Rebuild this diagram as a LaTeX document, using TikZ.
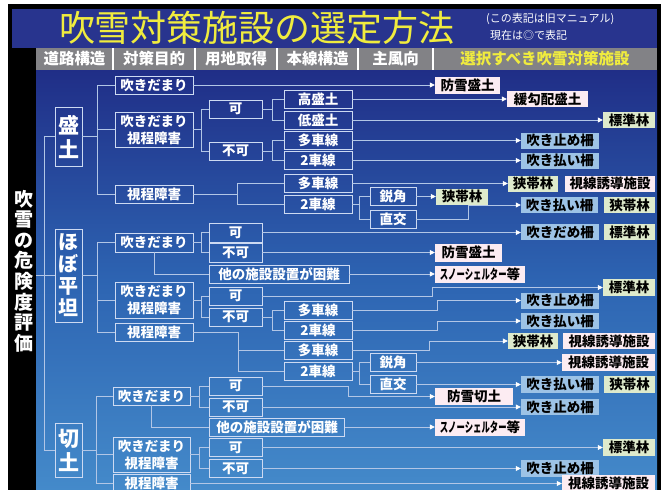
\documentclass[tikz,border=0pt]{standalone}
\usepackage{fontspec}
\usepackage{graphicx}
\setmainfont{Noto Sans CJK JP}
\usetikzlibrary{arrows.meta}
\definecolor{navy}{RGB}{40,52,142}
\definecolor{ttl}{RGB}{240,236,62}
\definecolor{hdr}{RGB}{130,130,134}
\definecolor{gtop}{RGB}{32,46,135}
\definecolor{gmid}{RGB}{45,100,178}
\definecolor{gbot}{RGB}{68,138,202}
\definecolor{lnc}{RGB}{178,198,230}
\definecolor{bxc}{RGB}{205,218,242}
\definecolor{pinkc}{RGB}{252,236,242}
\definecolor{greenc}{RGB}{222,234,204}
\definecolor{bluec}{RGB}{157,195,230}
\newcommand\wfont{\bfseries\fontsize{13.5}{17}\selectfont}
\newcommand\rfont{\bfseries\fontsize{21}{24}\selectfont}
\newcommand\sqz[1]{\scalebox{0.62}[1]{#1}}
\tikzset{
  sz/.style 2 args={minimum width=#1,minimum height=#2},
  wbox/.style={draw=bxc,line width=0.9pt,text=white,font=\wfont,inner sep=0pt,align=center},
  road/.style={wbox,font=\rfont},
  rbox/.style={text=black,font=\wfont,inner sep=0pt},
  pk/.style={rbox,fill=pinkc},
  gr/.style={rbox,fill=greenc},
  bl/.style={rbox,fill=bluec},
  ln/.style={draw=lnc,line width=0.8pt},
  ar/.style={ln,-{Triangle[length=5pt,width=5pt,color=white]}},
  hd/.style={text=white,font=\bfseries\fontsize{15.5}{17}\selectfont,inner sep=0pt},
}
\begin{document}
\begin{tikzpicture}[x=1pt,y=-1pt]
\useasboundingbox (0,0) rectangle (665,490);
\clip (0,0) rectangle (665,490);
\fill[white] (0,0) rectangle (665,490);
\fill[black] (8,4) rectangle (661,490);
\fill[navy] (12,9) rectangle (657,48);
\shade[top color=gtop,bottom color=gbot,middle color=gmid] (36,70) rectangle (657,490);
\fill[hdr] (36,48) rectangle (657,70);
\foreach \xx in {113,195,277,358,433} \draw[white,line width=1.5pt] (\xx,48) -- (\xx,70);
% title
\node[text=ttl,font=\fontsize{36}{36}\selectfont,inner sep=0pt] (title) at (257,28) {吹雪対策施設の選定方法};
\node[text=white,font=\fontsize{11}{12}\selectfont,inner sep=0pt,anchor=west] (note1) at (486,19) {(この表記は旧マニュアル)};
\node[text=white,font=\fontsize{11}{12}\selectfont,inner sep=0pt,anchor=west] (note2) at (490,35) {現在は◎で表記};
% header
\node[hd] (h1) at (74.5,59) {道路構造};
\node[hd] (h2) at (154,59) {対策目的};
\node[hd] (h3) at (236,59) {用地取得};
\node[hd] (h4) at (317.5,59) {本線構造};
\node[hd] (h5) at (395.5,59) {主風向};
\node[hd,text=ttl] (h6) at (545,59) {選択すべき吹雪対策施設};
% vertical label
\node[text=white,font=\bfseries\fontsize{19}{20.6}\selectfont,align=center,inner sep=0pt] (vl) at (23.5,271) {吹\\雪\\の\\危\\険\\度\\評\\価};
\coordinate (bandR) at (36,275.5);

% ===== 盛土 =====
\node[road,sz={27}{59}] (aR) at (68.5,136.5) {盛\\土};
\node[wbox,sz={78}{18}] (aF) at (154,85) {吹きだまり};
\node[wbox,sz={78}{35}] (aFV) at (154,129.5) {吹きだまり\\視程障害};
\node[wbox,sz={78}{18}] (aV) at (154,194) {視程障害};
\node[wbox,sz={53}{18}] (aKa) at (235.5,109) {可};
\node[wbox,sz={53}{18}] (aFu) at (235.5,151) {不可};
\node[wbox,sz={68}{18}] (aHi) at (318,99) {高盛土};
\node[wbox,sz={68}{18}] (aLo) at (318,120) {低盛土};
\node[wbox,sz={68}{18}] (aM1) at (318,140.5) {多車線};
\node[wbox,sz={68}{18}] (aT1) at (318,160.5) {2車線};
\node[wbox,sz={68}{18}] (aM2) at (318,183.5) {多車線};
\node[wbox,sz={68}{18}] (aT2) at (318,204) {2車線};
\node[wbox,sz={46}{18}] (aE) at (393,196.5) {鋭角};
\node[wbox,sz={46}{18}] (aC) at (393,219) {直交};
\node[pk,sz={65}{17}] (aR1) at (467.5,85) {防雪盛土};
\node[pk,sz={81}{16}] (aR2) at (547.5,99) {緩勾配盛土};
\node[gr,sz={52}{16}] (aR3) at (629,120) {標準林};
\node[bl,sz={78}{16}] (aR4) at (560,140.5) {吹き止め柵};
\node[bl,sz={78}{16}] (aR5) at (560,160.5) {吹き払い柵};
\node[gr,sz={50}{16}] (aR6) at (533,183.5) {狭帯林};
\node[pk,sz={90}{16}] (aR6b) at (610,183.5) {視線誘導施設};
\node[gr,sz={52}{16}] (aR7) at (462,196.5) {狭帯林};
\node[bl,sz={77}{16}] (aR8) at (559.5,205) {吹き払い柵};
\node[gr,sz={51}{16}] (aR8b) at (629.5,205) {狭帯林};
\draw[ln] (aR.east) -- ++(16,0);
\draw[ln] (aF.west) -- ++(-17,0) |- (aV.west);
\draw[ln] (aFV.west) -- ++(-17,0);
\draw[ln] (aFV.east) -- ++(9,0);
\draw[ln] (aKa.west) -- ++(-7,0) |- (aFu.west);
\draw[ln] (aKa.east) -- ++(11,0);
\draw[ln] (aHi.west) -- ++(-11,0) |- (aLo.west);
\draw[ln] (aFu.east) -- ++(11,0);
\draw[ln] (aM1.west) -- ++(-11,0) |- (aT1.west);
\draw[ln] (aV.east) -- ++(45,0);
\draw[ln] (aM2.west) -- ++(-46,0) |- (aT2.west);
\draw[ln] (aT2.east) -- ++(8,0);
\draw[ln] (aE.west) -- ++(-10,0) |- (aC.west);
\draw[ar] (aF.east) -- (aF.east -| aR1.west);
\draw[ar] (aHi.east) -- (aHi.east -| aR2.west);
\draw[ar] (aLo.east) -- (aLo.east -| aR3.west);
\draw[ar] (aM1.east) -- (aM1.east -| aR4.west);
\draw[ar] (aT1.east) -- (aT1.east -| aR5.west);
\draw[ar] (aM2.east) -- (aM2.east -| aR6.west);
\draw[ar] (aE.east) -- (aE.east -| aR7.west);
\draw[ar] (aC.east) -- ++(52,0) |- (aR8.west);

% ===== ほぼ平坦 =====
\node[road,sz={27}{93},font=\bfseries\fontsize{20}{22}\selectfont] (bR) at (68.5,275.5) {ほ\\ぼ\\平\\坦};
\node[wbox,sz={78}{19}] (bF) at (154,242.5) {吹きだまり};
\node[wbox,sz={78}{36}] (bFV) at (154,300) {吹きだまり\\視程障害};
\node[wbox,sz={78}{18}] (bV) at (154,332) {視程障害};
\node[wbox,sz={53}{19}] (bKa) at (235.5,232.5) {可};
\node[wbox,sz={53}{19}] (bFu) at (235.5,252.5) {不可};
\node[wbox,sz={140}{18}] (bO) at (279,274) {他の施設設置が困難};
\node[wbox,sz={53}{18}] (bKa2) at (235.5,296) {可};
\node[wbox,sz={53}{18}] (bFu2) at (235.5,317) {不可};
\node[wbox,sz={68}{18}] (bM1) at (318,310) {多車線};
\node[wbox,sz={68}{18}] (bT1) at (318,330) {2車線};
\node[wbox,sz={68}{18}] (bM2) at (318,350) {多車線};
\node[wbox,sz={68}{18}] (bT2) at (318,371) {2車線};
\node[wbox,sz={46}{18}] (bE) at (393,362.5) {鋭角};
\node[wbox,sz={46}{18}] (bC) at (393,384.5) {直交};
\node[bl,sz={78}{16}] (bR1) at (560,232) {吹きだめ柵};
\node[gr,sz={51}{16}] (bR1b) at (629.5,232) {標準林};
\node[pk,sz={67}{18}] (bR2) at (468.5,252.5) {防雪盛土};
\node[pk,sz={90}{17}] (bR3) at (480,274) {\sqz{スノーシェルター}等};
\node[gr,sz={52}{17}] (bR4) at (629,287.5) {標準林};
\node[bl,sz={78}{16}] (bR5) at (560,300.5) {吹き止め柵};
\node[bl,sz={78}{16}] (bR6) at (560,321) {吹き払い柵};
\node[gr,sz={50}{16}] (bR7) at (533,341) {狭帯林};
\node[pk,sz={92}{16}] (bR7b) at (609,341) {視線誘導施設};
\node[pk,sz={93}{17}] (bR8) at (608.5,362.5) {視線誘導施設};
\node[bl,sz={78}{17}] (bR9) at (560,384.5) {吹き払い柵};
\node[gr,sz={51}{17}] (bR9b) at (629.5,384.5) {狭帯林};
\draw[ln] (bandR) -- (bandR -| bR.west);
\draw[ln] (bR.east) -- ++(16,0);
\draw[ln] (bF.west) -- ++(-17,0) |- (bV.west);
\draw[ln] (bFV.west) -- ++(-17,0);
\draw[ln] (bF.east) -- ++(9,0);
\draw[ln] (bKa.west) -- ++(-7,0) |- (bFu.west);
\draw[ln] (bF.south) |- (bO.west);
\draw[ln] (bFV.east) -- ++(9,0);
\draw[ln] (bKa2.west) -- ++(-7,0) |- (bFu2.west);
\draw[ln] (bFu2.east) -- ++(11,0);
\draw[ln] (bM1.west) -- ++(-11,0) |- (bT1.west);
\draw[ln] (bV.east) -- ++(45,0) |- (bT2.west);
\draw[ln] (bM2.west) -- ++(-46,0);
\draw[ln] (bT2.east) -- ++(8,0);
\draw[ln] (bE.west) -- ++(-10,0) |- (bC.west);
\draw[ar] (bKa.east) -- (bKa.east -| bR1.west);
\draw[ar] (bFu.east) -- (bFu.east -| bR2.west);
\draw[ar] (bO.east) -- (bO.east -| bR3.west);
\draw[ar] (bKa2.east) -- ++(170,0) |- (bR4.west);
\draw[ar] (bM1.east) -- ++(85,0) |- (bR5.west);
\draw[ar] (bT1.east) -- ++(85,0) |- (bR6.west);
\draw[ar] (bM2.east) -- ++(77,0) |- (bR7.west);
\draw[ar] (bE.east) -- (bE.east -| bR8.west);
\draw[ar] (bC.east) -- (bC.east -| bR9.west);

% ===== 切土 =====
\node[road,sz={27}{54}] (cR) at (68.5,450) {切\\土};
\node[wbox,sz={77}{18}] (cF) at (151.5,396) {吹きだまり};
\node[wbox,sz={53}{18}] (cKa) at (235.5,386) {可};
\node[wbox,sz={53}{18}] (cFu) at (235.5,407) {不可};
\node[wbox,sz={135}{18}] (cO) at (277,427) {他の施設設置が困難};
\node[wbox,sz={77}{35}] (cFV) at (151.5,454.5) {吹きだまり\\視程障害};
\node[wbox,sz={53}{18}] (cKa2) at (235.5,447.5) {可};
\node[wbox,sz={53}{18}] (cFu2) at (235.5,468.5) {不可};
\node[wbox,sz={77}{18}] (cV) at (151.5,483.5) {視程障害};
\node[pk,sz={78}{17}] (cR1) at (474,396.5) {防雪切土};
\node[bl,sz={78}{16}] (cR2) at (560,407) {吹き止め柵};
\node[pk,sz={90}{17}] (cR3) at (480,427) {\sqz{スノーシェルター}等};
\node[gr,sz={52}{17}] (cR4) at (629,447.5) {標準林};
\node[bl,sz={78}{17}] (cR5) at (560,468.5) {吹き止め柵};
\node[pk,sz={93}{17}] (cR6) at (608.5,483.5) {視線誘導施設};
\draw[ln] (cR.east) -- ++(15,0);
\draw[ln] (cF.west) -- ++(-16,0) |- (cV.west);
\draw[ln] (cFV.west) -- ++(-16,0);
\draw[ln] (cF.east) -- ++(10,0);
\draw[ln] (cKa.west) -- ++(-9,0) |- (cFu.west);
\draw[ln] (cF.south) |- (cO.west);
\draw[ln] (cFV.east) -- ++(10,0);
\draw[ln] (cKa2.west) -- ++(-9,0) |- (cFu2.west);
\draw[ar] (cKa.east) -- ++(86,0) |- (cR1.west);
\draw[ar] (cFu.east) -- (cFu.east -| cR2.west);
\draw[ar] (cO.east) -- (cO.east -| cR3.west);
\draw[ar] (cKa2.east) -- (cKa2.east -| cR4.west);
\draw[ar] (cFu2.east) -- (cFu2.east -| cR5.west);
\draw[ar] (cV.east) -- (cV.east -| cR6.west);

% main left tree
\draw[ln] (aR.west) -- ++(-10,0) |- (cR.west);
\end{tikzpicture}
\end{document}
